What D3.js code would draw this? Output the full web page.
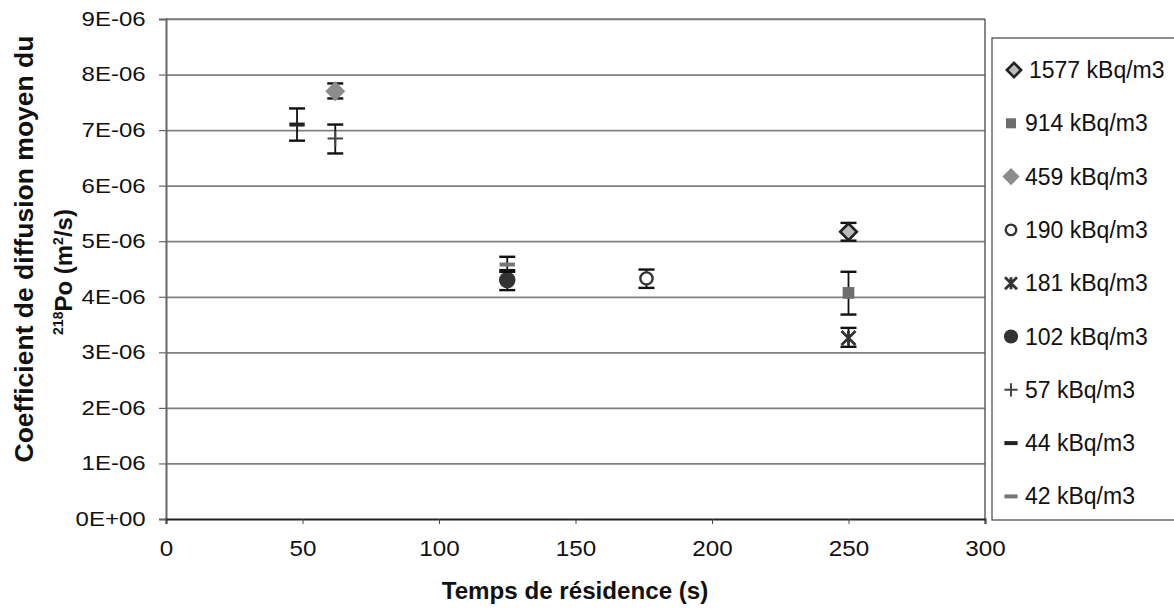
<!DOCTYPE html>
<html lang="fr">
<head>
<meta charset="utf-8">
<title>Coefficient de diffusion</title>
<script src="https://cdn.jsdelivr.net/npm/d3@7"></script>
<style>
  body { margin: 0; background: #fff; }
  svg text { font-family: "Liberation Sans", Arial, sans-serif; fill: #111; }
  .grid line { stroke: #808080; stroke-width: 1.7; }
</style>
</head>
<body>
<div id="graph"></div>
<script>
// series, one value per series (residence time, mean coefficient, error bar low / high)
var seriesNames = ["1577 kBq/m3", "914 kBq/m3", "459 kBq/m3", "190 kBq/m3", "181 kBq/m3",
                   "102 kBq/m3", "57 kBq/m3", "44 kBq/m3", "42 kBq/m3"];
var residence = [250, 250, 62, 176, 250, 125, 62, 48, 125];
var coefMean  = [5.17e-6, 4.07e-6, 7.70e-6, 4.33e-6, 3.26e-6, 4.30e-6, 6.85e-6, 7.10e-6, 4.58e-6];
var coefLow   = [5.01e-6, 3.68e-6, 7.57e-6, 4.16e-6, 3.10e-6, 4.12e-6, 6.58e-6, 6.81e-6, 4.45e-6];
var coefHigh  = [5.33e-6, 4.45e-6, 7.84e-6, 4.49e-6, 3.44e-6, 4.48e-6, 7.10e-6, 7.39e-6, 4.72e-6];
var markerKind = ["diamondOpen", "square", "diamond", "circleOpen", "star", "circle", "plus", "dash", "dash"];
var markerColor = ["#222", "#6e6e6e", "#8c8c8c", "#333", "#333", "#333", "#444", "#222", "#777"];

var xTicks = [0, 50, 100, 150, 200, 250, 300];
var yTicks = [0, 1e-6, 2e-6, 3e-6, 4e-6, 5e-6, 6e-6, 7e-6, 8e-6, 9e-6];
var yTickLabels = ["0E+00", "1E-06", "2E-06", "3E-06", "4E-06", "5E-06", "6E-06", "7E-06", "8E-06", "9E-06"];

var W = 1174, H = 615;
var plot = { left: 166, right: 985, top: 19, bottom: 519 };

var svg = d3.select("#graph").append("svg")
    .attr("width", W).attr("height", H);

var x = d3.scaleLinear().domain([0, 300]).range([plot.left, plot.right]);
var y = d3.scaleLinear().domain([0, 9e-6]).range([plot.bottom, plot.top]);

// horizontal gridlines
svg.append("g")
    .attr("class", "grid")
    .attr("transform", "translate(" + plot.left + ",0)")
    .call(d3.axisLeft(y).tickValues(yTicks.slice(1)).tickSize(-(plot.right - plot.left)).tickFormat(""))
    .call(g => g.select(".domain").remove());

// frame: top and right border
svg.append("line").attr("x1", plot.left).attr("x2", plot.right).attr("y1", plot.top).attr("y2", plot.top)
    .attr("stroke", "#777").attr("stroke-width", 1.7);
svg.append("line").attr("x1", plot.right).attr("x2", plot.right).attr("y1", plot.top).attr("y2", plot.bottom)
    .attr("stroke", "#555").attr("stroke-width", 1.4);

// y axis
var yAxis = svg.append("g")
    .attr("transform", "translate(" + plot.left + ",0)")
    .call(d3.axisLeft(y).tickValues(yTicks).tickSize(7).tickPadding(10)
        .tickFormat((d, i) => yTickLabels[i]));
yAxis.select(".domain").attr("stroke", "#666").attr("stroke-width", 2);
yAxis.selectAll(".tick line").attr("stroke", "#666").attr("stroke-width", 1.2);
yAxis.selectAll(".tick text")
    .attr("font-size", 20).attr("fill", "#111")
    .attr("transform", function () {
        return "translate(-157,0) scale(1.2,1) translate(" + (157 / 1.2) + ",0)";
    });

// x axis
var xAxis = svg.append("g")
    .attr("transform", "translate(0," + plot.bottom + ")")
    .call(d3.axisBottom(x).tickValues(xTicks).tickSize(5).tickPadding(16));
xAxis.select(".domain").attr("stroke", "#222").attr("stroke-width", 2);
xAxis.selectAll(".tick line").attr("stroke", "#444");
xAxis.selectAll(".tick text")
    .attr("font-size", 22).attr("fill", "#111")
    .attr("transform", "scale(1.1,1)");

// axis titles
svg.append("text")
    .attr("transform", "translate(575,599) scale(1.05,1)")
    .attr("text-anchor", "middle")
    .attr("font-size", 23).attr("font-weight", "bold")
    .text("Temps de résidence (s)");

svg.append("text")
    .attr("transform", "translate(33,249) rotate(-90)")
    .attr("text-anchor", "middle")
    .attr("font-size", 26.5).attr("font-weight", "bold")
    .text("Coefficient de diffusion moyen du");

var t2 = svg.append("text")
    .attr("transform", "translate(72,272) rotate(-90)")
    .attr("text-anchor", "middle")
    .attr("font-size", 24).attr("font-weight", "bold");
t2.append("tspan").attr("font-size", 14).attr("dy", -9).text("218");
t2.append("tspan").attr("dy", 9).text("Po (m");
t2.append("tspan").attr("font-size", 14).attr("dy", -9).text("2");
t2.append("tspan").attr("dy", 9).text("/s)");

// marker drawing
function drawMarker(g, kind, color, s) {
    if (kind === "diamondOpen") {
        g.append("path").attr("d", d3.symbol(d3.symbolDiamond2, s * s * 0.9)())
            .attr("fill", "#bbb").attr("stroke", color).attr("stroke-width", 2.6);
    } else if (kind === "diamond") {
        g.append("path").attr("d", d3.symbol(d3.symbolDiamond2, s * s * 1.3)())
            .attr("fill", color);
    } else if (kind === "square") {
        g.append("path").attr("d", d3.symbol(d3.symbolSquare, s * s * 0.7)())
            .attr("fill", color);
    } else if (kind === "circleOpen") {
        g.append("path").attr("d", d3.symbol(d3.symbolCircle, s * s * 0.6)())
            .attr("fill", "#fff").attr("stroke", color).attr("stroke-width", 2.4);
    } else if (kind === "circle") {
        g.append("path").attr("d", d3.symbol(d3.symbolCircle, s * s * 1.1)())
            .attr("fill", color);
    } else if (kind === "star") {
        var r = s * 0.5;
        g.append("path")
            .attr("d", "M" + (-r) + "," + (-r) + "L" + r + "," + r + "M" + (-r) + "," + r + "L" + r + "," + (-r) +
                "M0," + (-r) + "L0," + r)
            .attr("stroke", color).attr("stroke-width", 2.8).attr("fill", "none");
    } else if (kind === "plus") {
        var p = s * 0.55;
        g.append("path").attr("d", "M" + (-p) + ",0L" + p + ",0M0," + (-p) + "L0," + p)
            .attr("stroke", color).attr("stroke-width", 2).attr("fill", "none");
    } else if (kind === "dash") {
        g.append("rect").attr("x", -s * 0.55).attr("y", -2).attr("width", s * 1.1).attr("height", 4)
            .attr("fill", color);
    }
}

// error bars and points
var points = svg.append("g");
seriesNames.forEach(function (name, i) {
    var cx = x(residence[i]);
    var g = points.append("g");
    var cap = 8;
    g.append("line").attr("x1", cx).attr("x2", cx)
        .attr("y1", y(coefLow[i])).attr("y2", y(coefHigh[i]))
        .attr("stroke", "#111").attr("stroke-width", 1.8);
    [coefLow[i], coefHigh[i]].forEach(function (v) {
        g.append("line").attr("x1", cx - cap).attr("x2", cx + cap)
            .attr("y1", y(v)).attr("y2", y(v))
            .attr("stroke", "#111").attr("stroke-width", 2.4);
    });
    var m = g.append("g").attr("transform", "translate(" + cx + "," + y(coefMean[i]) + ")");
    drawMarker(m, markerKind[i], markerColor[i], 14);
});

// legend
var legend = svg.append("g").attr("transform", "translate(992,38)");
legend.append("rect").attr("x", 0).attr("y", 0).attr("width", 200).attr("height", 482)
    .attr("fill", "#fff").attr("stroke", "#444").attr("stroke-width", 1.2);
seriesNames.forEach(function (name, i) {
    var ly = 32 + i * 53.3;
    var m = legend.append("g").attr("transform", "translate(" + (i === 0 ? 22 : 19) + "," + ly + ")");
    drawMarker(m, markerKind[i], markerColor[i], 12);
    legend.append("text")
        .attr("transform", "translate(" + (i === 0 ? 37 : 33) + "," + (ly + 8) + ")")
        .attr("font-size", 23)
        .text(name);
});
</script>
</body>
</html>
